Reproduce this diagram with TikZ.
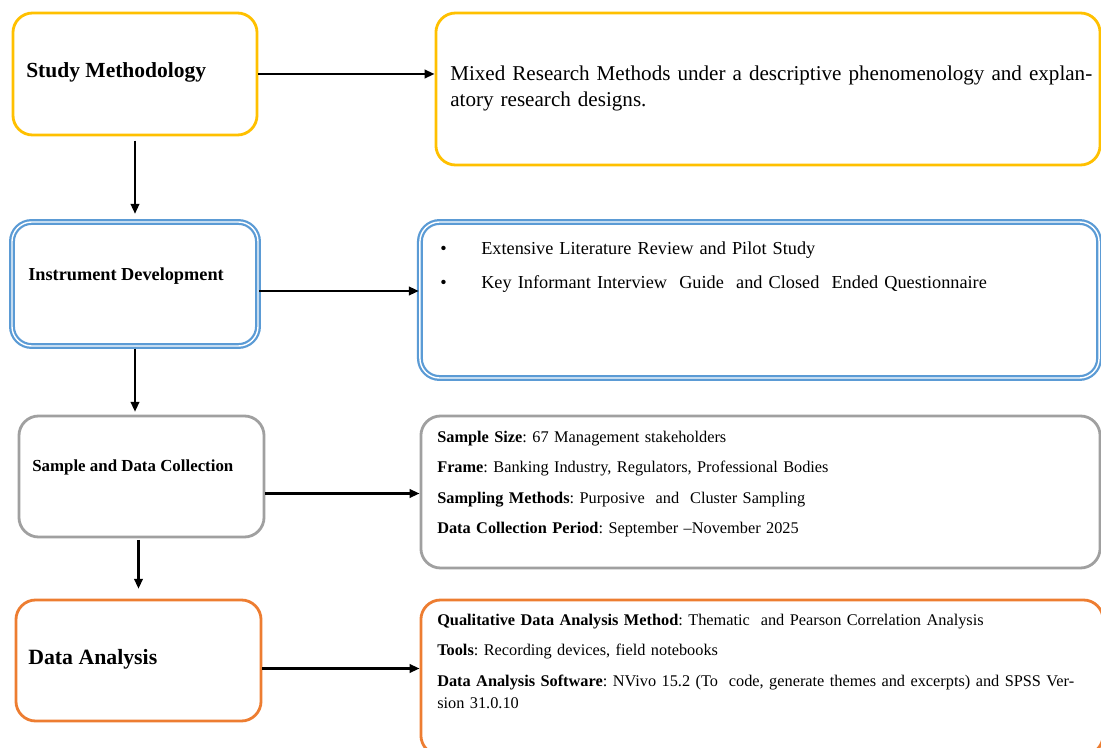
\documentclass[tikz,border=0pt]{standalone}
\usepackage{fontspec}
\setmainfont{Liberation Serif}
\frenchspacing
\definecolor{fgold}{RGB}{255,192,0}
\definecolor{fblue}{RGB}{91,155,213}
\definecolor{fgray}{RGB}{160,160,160}
\definecolor{forange}{RGB}{237,125,49}
\usetikzlibrary{arrows.meta,positioning,calc}

\begin{document}
\begin{tikzpicture}[x=0.025cm, y=-0.025cm,
        box/.style={rectangle, rounded corners=14pt, line width=2pt},
        dbox/.style={rectangle, rounded corners=14pt, line width=1.6pt, draw=fblue,
          double=white, double distance=1pt},
        head/.style={anchor=base west, inner sep=0pt, font=\bfseries},
        info/.style={anchor=base west, inner sep=0pt, align=left, text width=16.4cm},
        arrow/.style={-{Triangle[length=7pt,width=6pt]}, line width=1.5pt, black}
      ]
        \useasboundingbox (0,0) rectangle (1101,748);

        % left column
        \node[box, draw=fgold, minimum width=6.1cm, minimum height=3.05cm]    (sm)  at (135,74)    {};
        \node[dbox, minimum width=6.15cm, minimum height=3.1cm]               (id)  at (135,284)   {};
        \node[box, draw=fgray, minimum width=6.125cm, minimum height=3.025cm] (sdc) at (141.5,476.5) {};
        \node[box, draw=forange, minimum width=6.125cm, minimum height=3.025cm] (da) at (138.5,660.5) {};

        \node[head, font=\bfseries\fontsize{15.3}{18}\selectfont] (smt)  at (26,78)  {Study Methodology};
        \node[head, font=\bfseries\fontsize{13}{16}\selectfont]   (idt)  at (28,281) {Instrument Development};
        \node[head, font=\bfseries\fontsize{12}{15}\selectfont]   (sdct) at (32,471) {Sample and Data Collection};
        \node[head, font=\bfseries\fontsize{15.5}{18}\selectfont] (dat)  at (28,664) {Data Analysis};

        % right column
        \node[box, draw=fgold, minimum width=16.6cm, minimum height=3.8cm]     (r1) at (768,89)    {};
        \node[dbox, minimum width=16.975cm, minimum height=3.9cm]              (r2) at (759.5,300) {};
        \node[box, draw=fgray, minimum width=16.975cm, minimum height=3.8cm]   (r3) at (760.5,492) {};
        \node[box, draw=forange, minimum width=17.05cm, minimum height=3.875cm] (r4) at (762,677.5) {};

        \node[info, font=\fontsize{15}{17.8}\selectfont] (r1t) at (450,81)
          {Mixed Research Methods under a descriptive phenomenology and explan-\\atory research designs.};
        \node[info, font=\fontsize{13}{23.5}\selectfont] (r2t) at (440,255)
          {\makebox[1.025cm][l]{\textbullet}Extensive Literature Review and Pilot Study\\
           \makebox[1.025cm][l]{\textbullet}Key Informant Interview\ \ Guide\ \ and Closed\ \ Ended Questionnaire};
        \node[info, font=\fontsize{11.6}{21.8}\selectfont] (r3t) at (437,442)
          {\textbf{Sample Size}: 67 Management stakeholders\\
           \textbf{Frame}: Banking Industry, Regulators, Professional Bodies\\
           \textbf{Sampling Methods}: Purposive\ \ and\ \ Cluster Sampling\\
           \textbf{Data Collection Period}: September --November 2025};
        \node[info, font=\fontsize{11.6}{15.6}\selectfont] (r4t) at (437,625)
          {\textbf{Qualitative Data Analysis Method}: Thematic\ \ and Pearson Correlation Analysis\\[6.4pt]
           \textbf{Tools}: Recording devices, field notebooks\\[6.4pt]
           \textbf{Data Analysis Software}: NVivo 15.2 (To\ \ code, generate themes and excerpts) and SPSS Ver-\\
           sion 31.0.10};

        % connectors
        \draw[arrow] (sm.east) -- (sm.east -| r1.west);
        \draw[arrow] ([yshift=-0.175cm]id.east) -- ([yshift=-0.175cm]id.east -| r2.west);
        \draw[arrow] ([yshift=-0.425cm]sdc.east) -- ([yshift=-0.425cm]sdc.east -| r3.west);
        \draw[arrow] ([yshift=-0.2cm]da.east) -- ([yshift=-0.2cm]da.east -| r4.west);

        \draw[arrow, shorten <=3pt, shorten >=5pt] (sm.south) -- (id.north);
        \draw[arrow, shorten <=1pt, shorten >=2pt] (id.south) -- (id.south |- sdc.north);
        \draw[arrow, shorten <=1pt, shorten >=7pt] (da.north |- sdc.south) -- (da.north);
      \end{tikzpicture}
\end{document}
